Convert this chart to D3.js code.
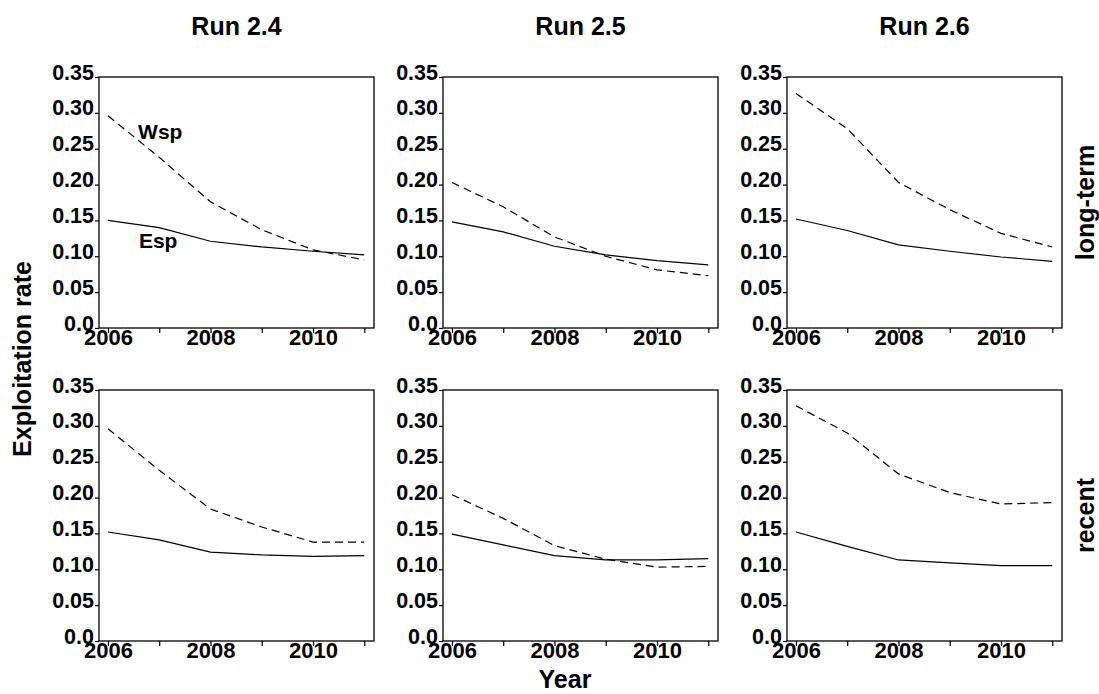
<!DOCTYPE html>
<html>
<head>
<meta charset="utf-8">
<title>Exploitation rate</title>
<script src="https://cdn.jsdelivr.net/npm/d3@7"></script>
<style>
body { margin: 0; background: #fff; }
text { font-family: "Liberation Sans", Arial, sans-serif; font-weight: bold; fill: #000; }
.axis path { display: none; }
.axis line { stroke: #000; stroke-width: 1.2; }
.axis text { font-size: 21.5px; }
.axis.x text { font-size: 22px; }
.frame { fill: none; stroke: #000; stroke-width: 1.3; }
.esp { fill: none; stroke: #000; stroke-width: 1.2; }
.wsp { fill: none; stroke: #000; stroke-width: 1.2; stroke-dasharray: 8,5; }
.big { font-size: 25px; }
.note { font-size: 21px; }
</style>
</head>
<body>
<svg width="1099" height="694"></svg>
<script>

var years = [2006, 2007, 2008, 2009, 2010, 2011];
var yearLabels = [2006, 2008, 2010];
var runs = ["Run 2.4", "Run 2.5", "Run 2.6"];
var rowNames = ["long-term", "recent"];
var rateTicks = [0, 0.05, 0.10, 0.15, 0.20, 0.25, 0.30, 0.35];
var rateTickLabels = ["0.0", "0.05", "0.10", "0.15", "0.20", "0.25", "0.30", "0.35"];

// one line per run (2.4, 2.5, 2.6), values for 2006..2011
var wspLongTerm = [
  [0.296, 0.238, 0.176, 0.137, 0.109, 0.095],
  [0.203, 0.169, 0.127, 0.100, 0.081, 0.073],
  [0.327, 0.278, 0.203, 0.165, 0.132, 0.113]
];
var espLongTerm = [
  [0.150, 0.140, 0.121, 0.113, 0.107, 0.102],
  [0.148, 0.134, 0.114, 0.102, 0.094, 0.088],
  [0.152, 0.136, 0.116, 0.107, 0.099, 0.093]
];
var wspRecent = [
  [0.296, 0.238, 0.184, 0.159, 0.138, 0.138],
  [0.204, 0.171, 0.133, 0.114, 0.103, 0.104],
  [0.328, 0.290, 0.233, 0.207, 0.191, 0.193]
];
var espRecent = [
  [0.152, 0.141, 0.124, 0.120, 0.118, 0.119],
  [0.149, 0.134, 0.119, 0.113, 0.113, 0.115],
  [0.152, 0.132, 0.113, 0.109, 0.105, 0.105]
];

// series labels drawn in the first panel only
var notes = [
  {text: "Wsp", year: 2007.02, rate: 0.264},
  {text: "Esp", year: 2006.98, rate: 0.111}
];

var rowsData = [
  {wsp: wspLongTerm, esp: espLongTerm},
  {wsp: wspRecent, esp: espRecent}
];

var svg = d3.select("svg"),
    margin = {top: 77, left: 99},
    panelW = 275,
    panelH = 251,
    stepX = 344,
    stepY = 313;

var x = d3.scaleLinear().domain([2005.825, 2011.19]).range([0, panelW]),
    y = d3.scaleLinear().domain([0, 0.35]).range([panelH, 0]);

var line = d3.line()
    .x(function(d, i) { return x(years[i]); })
    .y(function(d) { return y(d); });

rowsData.forEach(function(row, r) {
  runs.forEach(function(run, c) {
    var g = svg.append("g")
        .attr("transform", "translate(" + (margin.left + c * stepX) + "," + (margin.top + r * stepY) + ")");

    // x axis: ticks every year, labels every other year
    var gx = g.append("g")
        .attr("class", "axis x")
        .attr("transform", "translate(0," + panelH + ")")
        .call(d3.axisBottom(x)
          .tickValues(years)
          .tickSize(5)
          .tickPadding(0)
          .tickFormat(function(d) { return yearLabels.indexOf(d) >= 0 ? d : ""; }));
    gx.selectAll("text").attr("y", 0).attr("dy", "17px");

    var gy = g.append("g")
        .attr("class", "axis")
        .call(d3.axisLeft(y)
          .tickValues(rateTicks)
          .tickSize(4)
          .tickPadding(1)
          .tickFormat(function(d, i) { return rateTickLabels[i]; }));
    gy.selectAll("text").attr("dy", "2px");

    g.append("path")
        .attr("class", "wsp")
        .attr("d", line(row.wsp[c]));

    g.append("path")
        .attr("class", "esp")
        .attr("d", line(row.esp[c]));

    g.append("rect")
        .attr("class", "frame")
        .attr("width", panelW)
        .attr("height", panelH);

    if (r === 0) {
      svg.append("text")
          .attr("class", "big")
          .attr("x", margin.left + c * stepX + panelW / 2)
          .attr("y", 35)
          .attr("text-anchor", "middle")
          .text(run);
    }

    if (r === 0 && c === 0) {
      g.selectAll(".note")
        .data(notes)
        .enter().append("text")
          .attr("class", "note")
          .attr("x", function(d) { return x(d.year); })
          .attr("y", function(d) { return y(d.rate); })
          .attr("text-anchor", "middle")
          .text(function(d) { return d.text; });
    }
  });

  svg.append("text")
      .attr("class", "big")
      .attr("transform", "translate(1094," + (margin.top + r * stepY + panelH / 2) + ") rotate(-90)")
      .attr("text-anchor", "middle")
      .text(rowNames[r]);
});

svg.append("text")
    .attr("class", "big")
    .attr("transform", "translate(31," + (margin.top + (stepY + panelH) / 2) + ") rotate(-90)")
    .attr("text-anchor", "middle")
    .text("Exploitation rate");

svg.append("text")
    .attr("class", "big")
    .attr("x", 565)
    .attr("y", 688)
    .attr("text-anchor", "middle")
    .text("Year");

</script>
</body>
</html>
